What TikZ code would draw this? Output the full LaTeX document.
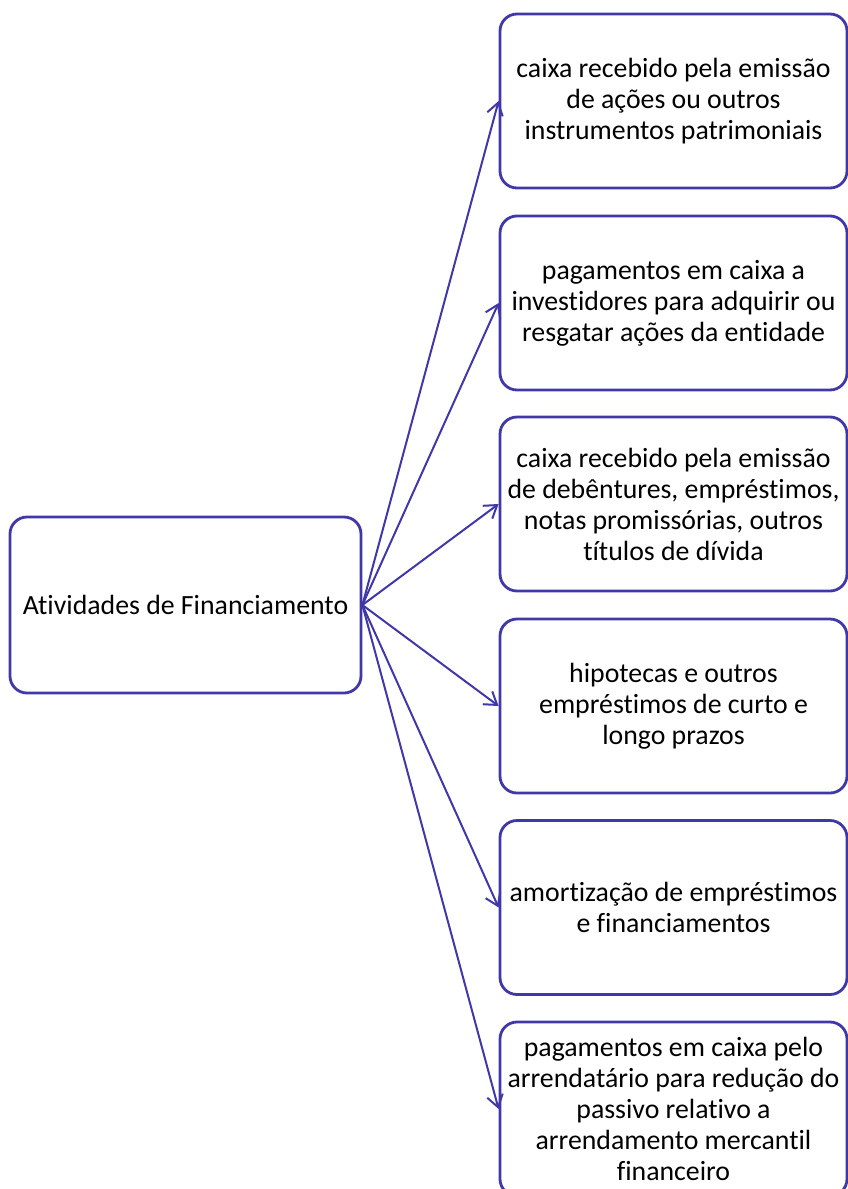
\documentclass[tikz,border=0pt]{standalone}
\usepackage{fontspec}
\setmainfont{Carlito}[Ligatures=NoCommon]
\usetikzlibrary{arrows.meta}
\definecolor{roxo}{RGB}{64,56,168}

\begin{document}
\begin{tikzpicture}[x=1pt, y=-1pt,
    caixa/.style={draw=roxo, line width=2.8pt, rounded corners=17pt,
        minimum width=347pt, minimum height=174pt,
        align=center, inner sep=0pt, font=\fontsize{27.8}{31}\selectfont},
    seta/.style={roxo, line width=2pt, -{Straight Barb[length=12pt, width=16pt]}}]
        \useasboundingbox (0,0) rectangle (848,1189);

        % bloco da esquerda
        \node[caixa, minimum width=351pt, minimum height=176pt] (fin) at (185.5,605)
            {Atividades de Financiamento};

        % blocos da direita
        \node[caixa] (c1) at (673.5,101) {caixa recebido pela emissão\\de ações ou outros\\instrumentos patrimoniais};
        \node[caixa] (c2) at (673.5,303) {pagamentos em caixa a\\investidores para adquirir ou\\resgatar ações da entidade};
        \node[caixa] (c3) at (673.5,504) {caixa recebido pela emissão\\de debêntures, empréstimos,\\notas promissórias, outros\\títulos de dívida};
        \node[caixa] (c4) at (673.5,706) {hipotecas e outros\\empréstimos de curto e\\longo prazos};
        \node[caixa] (c5) at (673.5,907.5) {amortização de empréstimos\\e financiamentos};
        \node[caixa] (c6) at (673.5,1109) {pagamentos em caixa pelo\\arrendatário para redução do\\passivo relativo a\\arrendamento mercantil\\financeiro};

        % setas
        \draw[seta] (fin.east) -- (c1.west);
        \draw[seta] (fin.east) -- (c2.west);
        \draw[seta] (fin.east) -- (c3.west);
        \draw[seta] (fin.east) -- (c4.west);
        \draw[seta] (fin.east) -- (c5.west);
        \draw[seta] (fin.east) -- (c6.west);

    \end{tikzpicture}
\end{document}
